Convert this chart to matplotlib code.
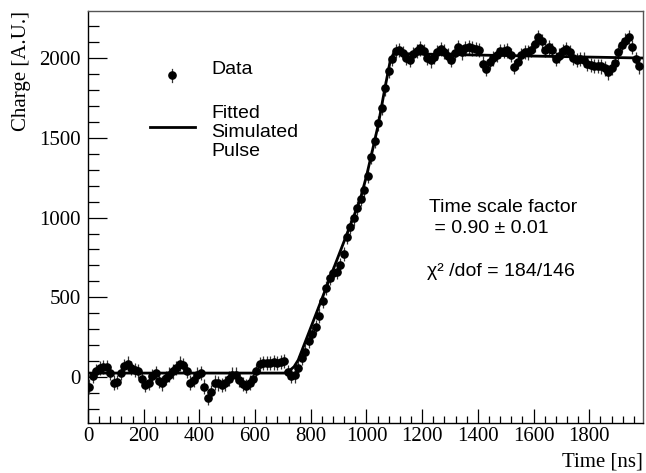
"""
Pulse charge vs time with fitted simulated pulse (ROOT-like style).
"""
import numpy as np
import matplotlib
matplotlib.use("Agg")
from matplotlib import pyplot as plt
from matplotlib.lines import Line2D
from matplotlib.ticker import MultipleLocator

# data points, one every 12.5 ns starting at 5 ns
t_start = 5.0
t_step = 12.5
charge = [
    -60, 5, 40, 55, 65, 60, 25, -35, -30, 25,
    70, 85, 55, 45, 40, -15, -50, -35, 5, 25,
    -25, -40, -5, 15, 35, 55, 85, 75, 40, -35,
    -20, 15, 25, -60, -130, -95, -35, -40, -50, -40,
    -10, 15, 15, -20, -45, -55, -35, -10, 40, 80,
    90, 90, 88, 92, 90, 95, 100, 30, 5, 10,
    55, 120, 160, 225, 270, 315, 385, 480, 560, 620,
    650, 660, 700, 770, 880, 940, 995, 1060, 1115, 1170,
    1260, 1380, 1480, 1590, 1690, 1810, 1920, 1995, 2045, 2050,
    2030, 2000, 1990, 2025, 2045, 2060, 2045, 2000, 1985, 2005,
    2035, 2058, 2040, 2015, 1990, 2030, 2070, 2035, 2060, 2068,
    2060, 2055, 2050, 1965, 1930, 1975, 1998, 2020, 2045, 2046,
    2048, 2020, 1945, 1978, 2020, 2038, 2035, 2050, 2085, 2130,
    2105, 2050, 2067, 2048, 1995, 2015, 2045, 2055, 2035, 2000,
    1988, 1995, 1990, 1965, 1955, 1950, 1950, 1948, 1935, 1910,
    1940, 1968, 2035, 2080, 2110, 2130, 2070, 1995, 1948,
]
charge_err = 45

# fitted simulated pulse (keypoints of the curve)
fit_t = [0, 705, 720, 740, 755, 800, 850, 900, 950, 977, 1000, 1020,
         1042, 1065, 1085, 1095, 1110, 1993]
fit_q = [25, 25, 35, 65, 107, 310, 536, 762, 988, 1110, 1260, 1410,
         1580, 1800, 1980, 2020, 2028, 2000]

W, H = 646, 473
fig = plt.figure(figsize=(W / 100, H / 100), dpi=100)
ax = fig.add_axes([88 / W, 1 - 423 / H, 555 / W, 412 / H])

t = t_start + t_step * np.arange(len(charge))
ax.errorbar(t, charge, yerr=charge_err, fmt="o", color="black",
            ecolor="#333333", elinewidth=0.9, markersize=5.2, capsize=0,
            zorder=3)
ax.plot(fit_t, fit_q, color="black", lw=2.0, zorder=4)

ax.set_xlim(0, 1993)
ax.set_ylim(-288, 2295)

serif = "Liberation Serif"
sans = "Liberation Sans"

ax.xaxis.set_major_locator(MultipleLocator(200))
ax.xaxis.set_minor_locator(MultipleLocator(40))
ax.yaxis.set_major_locator(MultipleLocator(500))
ax.yaxis.set_minor_locator(MultipleLocator(100))
ax.tick_params(which="both", direction="in", top=False, right=False,
               width=0.9, colors="black")
ax.tick_params(axis="x", which="major", length=10, pad=3)
ax.tick_params(axis="x", which="minor", length=5)
ax.tick_params(axis="y", which="major", length=14, pad=5)
ax.tick_params(axis="y", which="minor", length=8)
xt = [v for v in range(0, 2000, 200)]
ax.set_xticks(xt)
ax.set_xticklabels([str(v) for v in xt])
for lab in ax.get_xticklabels() + ax.get_yticklabels():
    lab.set_fontfamily(serif)
    lab.set_fontsize(15)

for side in ["left", "bottom"]:
    ax.spines[side].set_linewidth(1.0)
    ax.spines[side].set_color("black")
for side in ["top", "right"]:
    ax.spines[side].set_linewidth(1.0)
    ax.spines[side].set_color("#555555")


def fx(px):
    return px / W


def fy(py):
    return 1 - py / H


# axis titles
fig.text(fx(643), fy(462), "Time [ns]", ha="right", va="center",
         fontsize=15, family=serif)
fig.text(fx(22), fy(11), "Charge [A.U.]", ha="center", va="top",
         rotation=90, fontsize=15, family=serif)

# legend
fig.add_artist(Line2D([fx(172), fx(172)], [fy(69), fy(82)],
                      color="#333333", lw=0.9))
fig.add_artist(Line2D([fx(172)], [fy(75.5)], marker="o", markersize=5.2,
                      color="black", linestyle="none"))
fig.text(fx(211), fy(70), "Data", ha="left", va="center", fontsize=14,
         family=sans)
fig.add_artist(Line2D([fx(150), fx(195)], [fy(127), fy(127)],
                      color="black", lw=2.0))
fig.text(fx(211), fy(113), "Fitted", ha="left", va="center", fontsize=14,
         family=sans)
fig.text(fx(211), fy(132), "Simulated", ha="left", va="center", fontsize=14,
         family=sans)
fig.text(fx(211), fy(152), "Pulse", ha="left", va="center", fontsize=14,
         family=sans)

# fit result
fig.text(fx(429), fy(207), "Time scale factor", ha="left", va="center",
         fontsize=14, family=sans)
fig.text(fx(429), fy(228), " = 0.90 \u00b1 0.01", ha="left", va="center",
         fontsize=14, family=sans)
fig.text(fx(427), fy(272), "\u03c7\u00b2 /dof = 184/146", ha="left",
         va="center", fontsize=14, family=sans)

fig.savefig("out.png", dpi=100)
